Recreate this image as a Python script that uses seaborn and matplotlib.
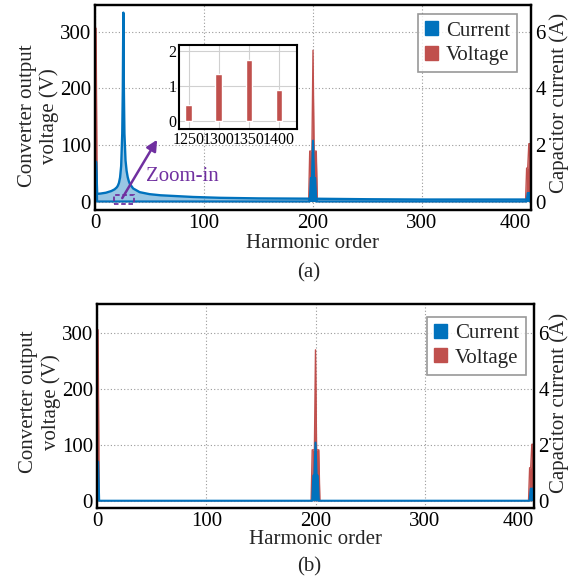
import matplotlib
matplotlib.use("Agg")
import matplotlib.pyplot as plt
import seaborn as sns
from matplotlib.patches import Patch, Rectangle

sns.set_style("white")
plt.rcParams["font.family"] = ["Liberation Serif", "DejaVu Serif"]
plt.rcParams["mathtext.fontset"] = "stix"

BLUE = "#0072BD"
RED = "#C0504D"
PURPLE = "#7030A0"

# ---- (a) spectra ----------------------------------------------------------
# converter output voltage spectrum (harmonic order, V)
volt_order_a = [0, 1, 2, 196, 197, 199, 200, 201, 203, 204, 395, 396, 397, 398, 400]
volt_amp_a = [0, 306, 0, 0, 89, 89, 267, 89, 89, 0, 0, 59, 59, 102, 102]

# capacitor current spectrum (harmonic order, A)
curr_order_a = [0, 1, 2, 197, 198, 199, 200, 201, 202, 203, 396, 397, 400]
curr_amp_a = [0, 1.40, 0.0, 0.0, 0.83, 0.83, 2.15, 0.83, 0.83, 0.0, 0.0, 0.30, 0.30]

# resonant part of the capacitor current (harmonic order, A)
res_order = [1, 2, 5, 10, 15, 18, 20, 21, 22, 23, 24, 25, 25.5, 26, 26.5, 27, 28, 29,
             30, 31, 32, 35, 41, 50, 60, 75, 90, 115, 150, 196, 250, 300, 350, 400]
res_amp = [1.40, 0.27, 0.28, 0.31, 0.37, 0.43, 0.50, 0.56, 0.66, 0.85, 1.25, 2.4, 3.9,
           6.67, 3.9, 2.4, 1.45, 1.08, 0.86, 0.72, 0.62, 0.46, 0.33, 0.26, 0.22, 0.19,
           0.16, 0.13, 0.11, 0.10, 0.08, 0.07, 0.07, 0.07]

# zoomed voltage harmonics around the resonance (Hz, V)
zoom_freq = ["1250", "1300", "1350", "1400"]
zoom_amp = [0.46, 1.32, 1.73, 0.87]

# ---- (b) spectra ----------------------------------------------------------
volt_order_b = [0, 1, 2, 196, 197, 199, 200, 201, 203, 204, 395, 396, 397, 398, 400]
volt_amp_b = [0, 306, 0, 0, 91, 91, 270, 91, 91, 0, 0, 59, 59, 101, 101]

curr_order_b = [0, 1, 2, 197, 198, 199, 200, 201, 202, 203, 396, 397, 400]
curr_amp_b = [0, 1.40, 0.0, 0.0, 0.90, 0.90, 2.08, 0.90, 0.90, 0.0, 0.0, 0.43, 0.43]

x_ticks = [0, 100, 200, 300, 400]
v_ticks = [0, 100, 200, 300]
a_ticks = [0, 2, 4, 6]

FS = 15
fig = plt.figure(figsize=(5.81, 5.82), dpi=100)


def spectrum_panel(rect, v_order, v_amp, c_order, c_amp, ylim, ylab_y, rlab_x, rlab_y,
                   xlab_y, leg_anchor):
    ax = fig.add_axes(rect)
    ax2 = ax.twinx()

    # voltage on the left axis
    ax.fill_between(v_order, v_amp, 0, color=RED, lw=0)
    sns.lineplot(x=v_order, y=v_amp, color=RED, lw=1.0, ax=ax, sort=False)

    # current on the right axis
    ax2.fill_between(c_order, c_amp, 0, color=BLUE, lw=0)
    sns.lineplot(x=c_order, y=c_amp, color=BLUE, lw=1.5, ax=ax2, sort=False)

    ax.set_xlim(0, 400)
    ax.set_ylim(*ylim)
    ax2.set_ylim(ylim[0] / 50, ylim[1] / 50)

    ax.set_xticks(x_ticks)
    xl = ax.set_xticklabels([str(t) for t in x_ticks])
    xl[-1].set_horizontalalignment("right")
    ax.set_yticks(v_ticks)
    ax2.set_yticks(a_ticks)
    for a in (ax, ax2):
        a.tick_params(length=0, pad=3, labelsize=FS, colors="black")
        for s in a.spines.values():
            s.set_color("black")
            s.set_linewidth(1.6)

    ax.grid(True, ls=(0, (1, 2)), color="#9a9a9a", lw=0.8)
    ax2.grid(False)

    ax.set_xlabel("Harmonic order", fontsize=FS)
    ax.xaxis.set_label_coords(0.5, xlab_y)
    ax.set_ylabel("Converter output\nvoltage (V)", fontsize=FS)
    ax.yaxis.set_label_coords(-0.082, ylab_y)
    ax2.set_ylabel("Capacitor current (A)", fontsize=FS)
    ax2.yaxis.set_label_coords(rlab_x, rlab_y)

    handles = [Patch(color=BLUE, label="Current"), Patch(color=RED, label="Voltage")]
    leg = ax2.legend(handles=handles, loc="upper right", bbox_to_anchor=leg_anchor,
                     fontsize=FS, frameon=True, fancybox=False, borderaxespad=0,
                     handlelength=0.65, handleheight=0.65, handletextpad=0.35,
                     labelspacing=0.25, borderpad=0.35)
    leg.get_frame().set_edgecolor("#7f7f7f")
    leg.get_frame().set_linewidth(1.2)
    return ax, ax2


# (a)
ax_a, ax_a2 = spectrum_panel([95 / 581, 1 - 210 / 582, 436 / 581, 205 / 582],
                             volt_order_a, volt_amp_a, curr_order_a, curr_amp_a,
                             (-15, 347), 0.46, 1.042, 0.524, -0.118, (0.968, 0.956))

# resonance curve with light shading underneath
ax_a2.fill_between(res_order, res_amp, 0, color=BLUE, alpha=0.4, lw=0)
sns.lineplot(x=res_order, y=res_amp, color=BLUE, lw=1.7, ax=ax_a2, sort=False)

# zoom marker, arrow and caption
ax_a2.add_patch(Rectangle((17, -4), 19, 15, transform=ax_a.transData, fill=False,
                          ec=PURPLE, ls=(0, (2.5, 1.5)), lw=1.3, zorder=5))
ax_a2.annotate("", xy=(57, 109), xytext=(25, 6), xycoords=ax_a.transData,
               textcoords=ax_a.transData,
               arrowprops=dict(arrowstyle="-|>", color=PURPLE, lw=1.8,
                               mutation_scale=16, shrinkA=0, shrinkB=0), zorder=6)
ax_a2.text(47, 44, "Zoom-in", transform=ax_a.transData, color=PURPLE,
           fontsize=FS, va="center", ha="left", zorder=6)

# inset with the zoomed voltage harmonics
axins = fig.add_axes([179 / 581, 1 - 129 / 582, 118 / 581, 84 / 582])
axins.set_zorder(ax_a2.get_zorder() + 1)
sns.barplot(x=zoom_freq, y=zoom_amp, color=RED, saturation=1, width=0.23, ax=axins)
axins.set_xlim(-0.33, 3.6)
axins.set_ylim(-0.24, 2.16)
axins.set_yticks([0, 1, 2])
axins.set_xlabel("")
axins.set_ylabel("")
axins.set_axisbelow(True)
axins.grid(True, color="#d0d0d0", lw=0.8)
axins.tick_params(length=0, pad=2, labelsize=11.5, colors="black")
for s in axins.spines.values():
    s.set_color("black")
    s.set_linewidth(1.5)

# (b)
spectrum_panel([97 / 581, 1 - 508 / 582, 437 / 581, 204 / 582],
               volt_order_b, volt_amp_b, curr_order_b, curr_amp_b,
               (-13, 352), 0.52, 1.036, 0.517, -0.11, (0.982, 0.938))

fig.text(309 / 581, 1 - 273 / 582, "(a)", ha="center", va="center", fontsize=FS)
fig.text(309 / 581, 1 - 567 / 582, "(b)", ha="center", va="center", fontsize=FS)

fig.savefig("out.png", dpi=100)
